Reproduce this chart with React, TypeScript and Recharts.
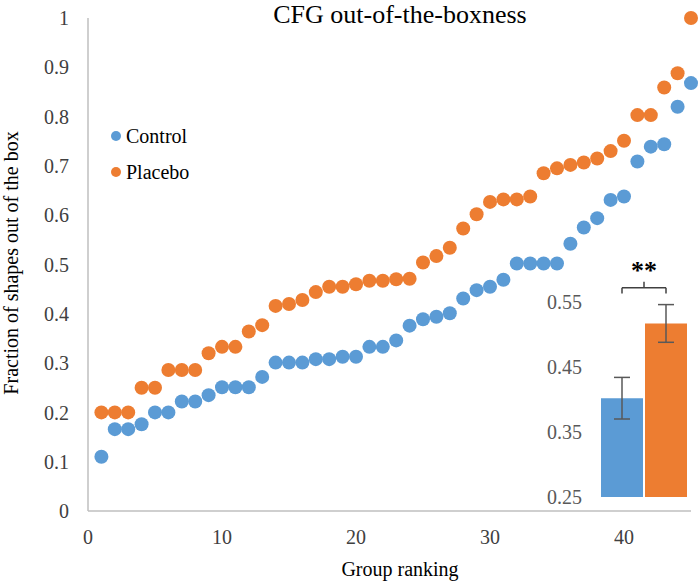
import React from 'react';
import {
  ScatterChart, Scatter, XAxis, YAxis, Legend,
  BarChart, Bar, Cell, ErrorBar, ReferenceLine,
} from 'recharts';

const ranks = [
  1, 2, 3, 4, 5, 6, 7, 8, 9, 10, 11, 12, 13, 14, 15, 16, 17, 18, 19, 20, 21, 22, 23,
  24, 25, 26, 27, 28, 29, 30, 31, 32, 33, 34, 35, 36, 37, 38, 39, 40, 41, 42, 43, 44, 45,
];
const controlValues = [
  0.11, 0.166, 0.166, 0.176, 0.2, 0.2, 0.222, 0.222, 0.235, 0.251, 0.251, 0.251, 0.272,
  0.301, 0.301, 0.301, 0.308, 0.308, 0.313, 0.313, 0.333, 0.333, 0.346, 0.376, 0.389,
  0.394, 0.401, 0.431, 0.448, 0.455, 0.469, 0.502, 0.502, 0.502, 0.502, 0.542, 0.575,
  0.594, 0.631, 0.638, 0.709, 0.739, 0.744, 0.82, 0.868,
];
const placeboValues = [
  0.2, 0.2, 0.2, 0.25, 0.25, 0.286, 0.286, 0.286, 0.32, 0.333, 0.333, 0.364, 0.377,
  0.416, 0.42, 0.428, 0.444, 0.455, 0.455, 0.46, 0.467, 0.467, 0.47, 0.471, 0.504,
  0.517, 0.534, 0.573, 0.602, 0.627, 0.632, 0.632, 0.638, 0.685, 0.695, 0.702, 0.707,
  0.715, 0.73, 0.751, 0.803, 0.803, 0.859, 0.888, 1.0,
];
const xTicks = [0, 10, 20, 30, 40];
const yTicks = [0, 0.1, 0.2, 0.3, 0.4, 0.5, 0.6, 0.7, 0.8, 0.9, 1];

// inset: group means with error
const insetGroups = ['Control', 'Placebo'];
const insetMeans = [0.402, 0.517];
const insetErrors = [0.032, 0.029];
const insetTicks = [0.25, 0.35, 0.45, 0.55];
const bracketLevel = 0.572;
const bracketDrop = 0.563;

const BLUE = '#5B9BD5';
const ORANGE = '#ED7D31';
const insetColors = [BLUE, ORANGE];
const FONT = 'Liberation Serif, Times New Roman, serif';

const controlPts = ranks.map((r, i) => ({ x: r, y: controlValues[i] }));
const placeboPts = ranks.map((r, i) => ({ x: r, y: placeboValues[i] }));
const insetData = insetGroups.map((g, i) => ({ group: g, mean: insetMeans[i], err: insetErrors[i] }));

const Dot = (p: any) => <circle cx={p.cx} cy={p.cy} r={7} fill={p.fill} />;

function makeTick(axis: 'x' | 'y', color: string) {
  return (p: any) => (
    <text
      x={p.x}
      y={p.y}
      dy={axis === 'x' ? '0.71em' : '0.355em'}
      textAnchor={axis === 'x' ? 'middle' : 'end'}
      fill={color}
      style={{ fontFamily: FONT, fontSize: 20 }}
    >
      {p.payload.value}
    </text>
  );
}

function LegendList({ payload }: any) {
  return (
    <div style={{ fontFamily: FONT }}>
      {(payload || []).map((p: any) => (
        <div key={p.value} style={{ display: 'flex', alignItems: 'center', height: 36 }}>
          <svg width={12} height={12}>
            <circle cx={6} cy={6} r={5} fill={p.color} />
          </svg>
          <span style={{ marginLeft: 4, fontSize: 20, color: '#000', fontFamily: FONT }}>{p.value}</span>
        </div>
      ))}
    </div>
  );
}

function Significance(props: any) {
  const vb = props.viewBox || {};
  const cx = vb.x + (vb.width || 0) / 2;
  const y = vb.y;
  return (
    <g>
      <line x1={cx} y1={y} x2={cx} y2={y - 6} stroke="#404040" strokeWidth={1.5} />
      <text x={cx} y={y - 9} textAnchor="middle" fill="#000" style={{ fontFamily: FONT, fontSize: 26, fontWeight: 'bold' }}>
        **
      </text>
    </g>
  );
}

export default function App() {
  return (
    <div style={{ position: 'absolute', left: 0, top: 0, width: 700, height: 581, background: '#fff', fontFamily: FONT }}>
      <ScatterChart width={700} height={581} margin={{ top: 18, right: 9, bottom: 0, left: 0 }} style={{ fontFamily: FONT }}>
        <XAxis
          type="number"
          dataKey="x"
          domain={[0, 45]}
          ticks={xTicks}
          height={70}
          tickSize={0}
          tickMargin={19}
          axisLine={{ stroke: '#bfbfbf', strokeWidth: 1.5 }}
          tick={makeTick('x', '#404040')}
        />
        <YAxis
          type="number"
          dataKey="y"
          domain={[0, 1]}
          ticks={yTicks}
          width={88}
          tickSize={0}
          tickMargin={19}
          axisLine={{ stroke: '#bfbfbf', strokeWidth: 1.5 }}
          tick={makeTick('y', '#404040')}
        />
        <Legend
          layout="vertical"
          align="center"
          verticalAlign="middle"
          content={<LegendList />}
          wrapperStyle={{ left: 110, top: 118, width: 120 }}
        />
        <Scatter name="Control" data={controlPts} fill={BLUE} shape={Dot} isAnimationActive={false} />
        <Scatter name="Placebo" data={placeboPts} fill={ORANGE} shape={Dot} isAnimationActive={false} />
      </ScatterChart>

      <div style={{ position: 'absolute', left: 540, top: 230 }}>
        <BarChart
          width={160}
          height={280}
          data={insetData}
          margin={{ top: 72, right: 12, bottom: 13, left: 0 }}
          barCategoryGap={1}
          style={{ fontFamily: FONT }}
        >
          <XAxis dataKey="group" hide />
          <YAxis
            type="number"
            domain={[0.25, 0.55]}
            ticks={insetTicks}
            width={60}
            axisLine={false}
            tickSize={0}
            tickMargin={18}
            tick={makeTick('y', '#595959')}
          />
          <Bar dataKey="mean" isAnimationActive={false}>
            {insetData.map((d, i) => (
              <Cell key={d.group} fill={insetColors[i]} />
            ))}
            <ErrorBar dataKey="err" width={8} stroke="#595959" strokeWidth={1.5} />
          </Bar>
          <ReferenceLine
            segment={[{ x: insetGroups[0], y: bracketLevel }, { x: insetGroups[1], y: bracketLevel }]}
            stroke="#404040"
            strokeWidth={1.5}
            ifOverflow="visible"
            label={<Significance />}
          />
          <ReferenceLine
            segment={[{ x: insetGroups[0], y: bracketLevel }, { x: insetGroups[0], y: bracketDrop }]}
            stroke="#404040"
            strokeWidth={1.5}
            ifOverflow="visible"
          />
          <ReferenceLine
            segment={[{ x: insetGroups[1], y: bracketLevel }, { x: insetGroups[1], y: bracketDrop }]}
            stroke="#404040"
            strokeWidth={1.5}
            ifOverflow="visible"
          />
        </BarChart>
      </div>

      <svg width={700} height={581} style={{ position: 'absolute', left: 0, top: 0, pointerEvents: 'none' }}>
        <text x={400} y={23} textAnchor="middle" fill="#000" style={{ fontFamily: FONT, fontSize: 26 }}>
          CFG out-of-the-boxness
        </text>
        <text x={400} y={576} textAnchor="middle" fill="#000" style={{ fontFamily: FONT, fontSize: 20 }}>
          Group ranking
        </text>
        <text
          x={18}
          y={263}
          textAnchor="middle"
          fill="#000"
          style={{ fontFamily: FONT, fontSize: 20 }}
          transform="rotate(-90 18 263)"
        >
          Fraction of shapes out of the box
        </text>
      </svg>
    </div>
  );
}
